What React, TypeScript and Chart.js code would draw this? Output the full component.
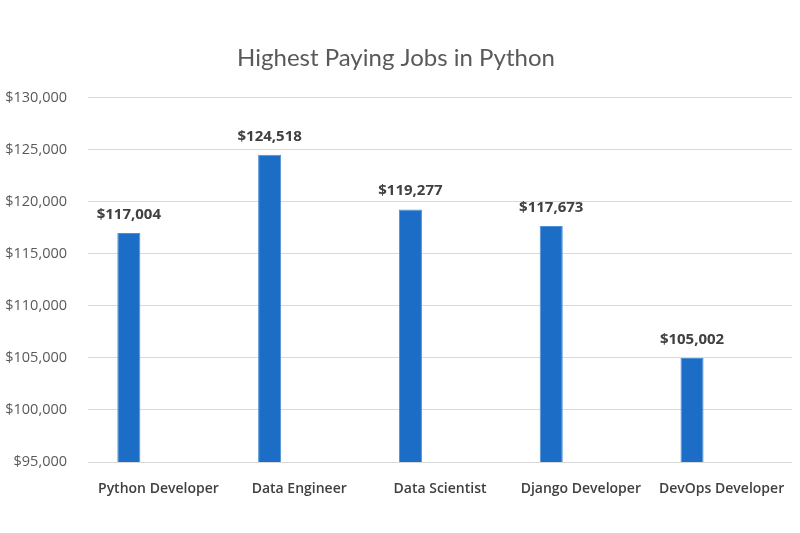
import { useEffect, useRef } from 'react';
import { Chart, ChartConfiguration, Plugin, registerables } from 'chart.js';

Chart.register(...registerables);

const jobs = ['Python Developer', 'Data Engineer', 'Data Scientist', 'Django Developer', 'DevOps Developer'];
const salaries = [117004, 124518, 119277, 117673, 105002];
// Excel-style empty second series, which pushes the bars to the left of each slot
const emptySeries: (number | null)[] = [null, null, null, null, null];

const money = (v: number) => '$' + v.toLocaleString('en-US');

// draws the bold value labels above each bar
const valueLabels: Plugin<'bar'> = {
  id: 'valueLabels',
  afterDatasetsDraw(chart) {
    const { ctx } = chart;
    const meta = chart.getDatasetMeta(0);
    ctx.save();
    ctx.font = 'bold 15px "Open Sans", sans-serif';
    ctx.fillStyle = '#404040';
    ctx.textAlign = 'center';
    ctx.textBaseline = 'bottom';
    meta.data.forEach((bar, i) => {
      ctx.fillText(money(salaries[i]), bar.x, bar.y - 11);
    });
    ctx.restore();
  },
};

const SalaryChart = () => {
  const canvasRef = useRef<HTMLCanvasElement>(null);
  const chartRef = useRef<Chart | null>(null);

  useEffect(() => {
    document.body.style.margin = '0';
    if (!canvasRef.current) return;
    if (chartRef.current) chartRef.current.destroy();

    const config: ChartConfiguration<'bar'> = {
      type: 'bar',
      data: {
        labels: jobs,
        datasets: [
          {
            label: 'Salary',
            data: salaries,
            backgroundColor: '#1c6dc5',
            borderColor: '#4f8fd6',
            borderWidth: 1,
            categoryPercentage: 0.84,
            barPercentage: 0.39,
          },
          {
            label: '',
            data: emptySeries,
            backgroundColor: 'transparent',
            categoryPercentage: 0.84,
            barPercentage: 0.39,
          },
        ],
      },
      options: {
        animation: false,
        responsive: false,
        maintainAspectRatio: false,
        layout: { padding: { top: 0, right: 8, bottom: 0, left: 0 } },
        plugins: {
          legend: { display: false },
          tooltip: { enabled: false },
          title: {
            display: true,
            text: 'Highest Paying Jobs in Python',
            color: '#595959',
            font: { family: 'Lato', size: 24, weight: 'normal' },
            padding: { top: 44, bottom: 25 },
          },
        },
        scales: {
          x: {
            grid: { display: false },
            border: { display: false },
            ticks: {
              color: '#404040',
              padding: 11,
              maxRotation: 0,
              font: { family: '"Open Sans"', size: 14, weight: 600 },
            },
            afterFit: (scale) => {
              scale.height = 71;
            },
          },
          y: {
            min: 95000,
            max: 130000,
            grid: { color: '#d9d9d9', drawTicks: false },
            border: { display: false },
            ticks: {
              stepSize: 5000,
              color: '#595959',
              padding: 21,
              font: { family: '"Open Sans"', size: 14.5 },
              callback: (v) => money(Number(v)),
            },
            afterFit: (scale) => {
              scale.width = 88;
            },
          },
        },
      },
      plugins: [valueLabels],
    };

    chartRef.current = new Chart(canvasRef.current, config);

    return () => {
      if (chartRef.current) {
        chartRef.current.destroy();
        chartRef.current = null;
      }
    };
  }, []);

  return (
    <div style={{ width: 800, height: 533, background: '#ffffff' }}>
      <canvas ref={canvasRef} width={800} height={533}></canvas>
    </div>
  );
};

export default function App() {
  return <SalaryChart />;
}
